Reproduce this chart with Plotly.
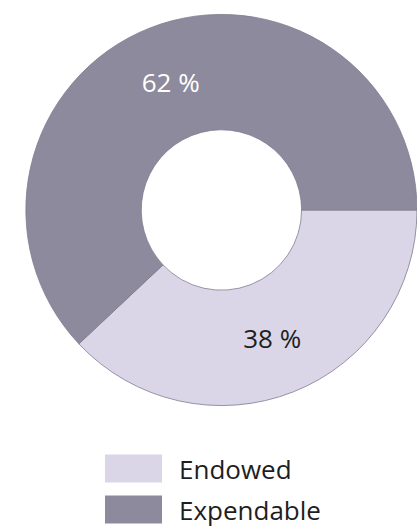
import plotly.graph_objects as go

categories = ["Endowed", "Expendable"]
values = [38, 62]
slice_colors = ["#dad6e8", "#8e8a9d"]
text_colors = ["#1e1e1e", "#ffffff"]

total = sum(values)
slice_text = [f"{round(v / total * 100)} %" for v in values]

fig = go.Figure()
fig.add_trace(go.Pie(
    labels=categories,
    values=values,
    text=slice_text,
    textinfo="text",
    textposition="inside",
    insidetextorientation="horizontal",
    insidetextfont=dict(family="Open Sans", size=26, color=text_colors),
    marker=dict(colors=slice_colors, line=dict(color="#7f7b8f", width=0.8)),
    hole=0.41,
    sort=False,
    direction="clockwise",
    rotation=90,
    domain=dict(x=[0.062, 1.0], y=[0.2316, 0.9745]),
    showlegend=False,
    hoverinfo="label+percent",
))

# custom legend (large swatches like the reference)
W, H = 417, 529
rows_y = [468.5, 509.5]
for i, (cat, col) in enumerate(zip(categories, slice_colors)):
    yc = rows_y[i]
    fig.add_shape(type="rect", xref="paper", yref="paper",
                  x0=105 / W, x1=162 / W,
                  y0=(H - (yc + 14)) / H, y1=(H - (yc - 14)) / H,
                  fillcolor=col, line=dict(color=col, width=0))
    fig.add_annotation(xref="paper", yref="paper", x=177 / W, y=(H - yc) / H,
                       text=cat, showarrow=False, xanchor="left", yanchor="middle",
                       font=dict(family="Open Sans", size=26, color="#1e1e1e"))

fig.update_layout(
    width=W, height=H,
    margin=dict(l=0, r=0, t=0, b=0),
    paper_bgcolor="white",
    plot_bgcolor="white",
)

fig.write_html("out.html")
